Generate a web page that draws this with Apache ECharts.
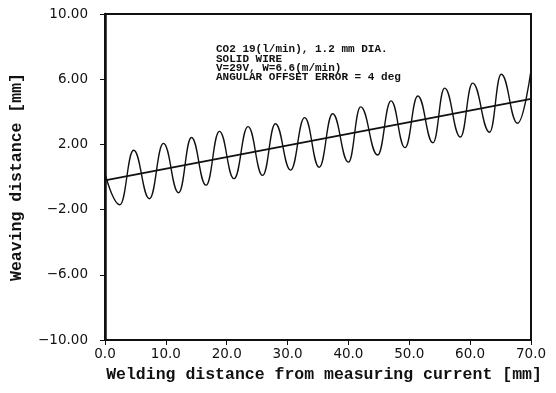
<!DOCTYPE html>
<html>
<head>
<meta charset="utf-8">
<script src="https://cdn.jsdelivr.net/npm/echarts@6/dist/echarts.min.js"></script>
<style>
  html, body { margin: 0; padding: 0; background: #fff; }
  #chart { width: 556px; height: 393px; }
</style>
</head>
<body>
<div id="chart"></div>
<script>
// weaving trace vs. welding distance
const waveX = [0, 2.45, 4.7, 7.3, 9.6, 12.1, 14.2, 16.6, 18.8, 21.2, 23.5, 25.9, 28.0, 30.5, 32.8,
  35.2, 37.4, 40.0, 42.0, 44.8, 47.0, 49.3, 51.4, 53.9, 55.8, 58.4, 60.4, 63.2, 65.1, 67.8, 70.0]
const waveY = [0.2, -1.7, 1.64, -1.33, 2.06, -0.97, 2.42, -0.5, 2.8, -0.1, 3.09, 0.1, 3.27, 0.42, 3.64,
  0.6, 3.88, 0.91, 4.3, 1.35, 4.67, 1.8, 4.97, 2.1, 5.45, 2.45, 5.76, 2.75, 6.3, 3.3, 6.55]

// offset line (4 deg)
const offsetX = [0, 70]
const offsetY = [-0.2, 4.8]

const yTicks = [-10, -6, -2, 2, 6, 10]
const noteLines = [
  'CO2 19(l/min), 1.2 mm DIA.',
  'SOLID WIRE',
  'V=29V, W=6.6(m/min)',
  'ANGULAR OFFSET ERROR = 4 deg',
]

const ink = '#111'
const tickFont = '"DejaVu Sans", sans-serif'
const nameFont = '"Liberation Mono", monospace'

const chart = echarts.init(document.getElementById('chart'), null, { renderer: 'canvas' })

chart.setOption({
  animation: false,
  backgroundColor: '#fff',
  grid: {
    left: 102, right: 25, top: 14, bottom: 53,
    show: true, borderColor: ink, borderWidth: 2, backgroundColor: 'transparent',
  },
  xAxis: {
    type: 'value', min: 0, max: 70, interval: 10,
    name: 'Welding distance from measuring current [mm]',
    nameLocation: 'middle', nameGap: 26,
    nameTextStyle: { color: ink, fontFamily: nameFont, fontWeight: 'bold', fontSize: 16.5, padding: [0, 0, 0, 12] },
    axisLine: { onZero: false, lineStyle: { color: ink, width: 2 } },
    axisTick: { inside: false, length: 5, lineStyle: { color: ink, width: 1 } },
    axisLabel: { color: ink, fontFamily: tickFont, fontSize: 13.5, margin: 7, formatter: v => v.toFixed(1) },
    splitLine: { show: false },
  },
  yAxis: {
    type: 'value', min: -10, max: 10,
    name: 'Weaving distance [mm]',
    nameLocation: 'middle', nameGap: 80,
    nameTextStyle: { color: ink, fontFamily: nameFont, fontWeight: 'bold', fontSize: 16.5 },
    axisLine: { show: true, onZero: false, lineStyle: { color: ink, width: 2.5 } },
    axisTick: { show: true, length: 5, customValues: yTicks, lineStyle: { color: ink, width: 1 } },
    axisLabel: {
      color: ink, fontFamily: tickFont, fontSize: 13.5, margin: 17,
      customValues: yTicks,
      formatter: v => v.toFixed(2).replace('-', '\u2212'),
    },
    splitLine: { show: false },
  },
  graphic: [{
    type: 'text', left: 216, top: 44,
    style: {
      text: noteLines.join('\n'),
      fill: ink, font: 'bold 11px "Liberation Mono", monospace', lineHeight: 9.3,
    },
  }],
  series: [
    {
      type: 'line', data: waveX.map((x, i) => [x, waveY[i]]),
      smooth: 0.45, smoothMonotone: 'x', showSymbol: false, symbol: 'none',
      lineStyle: { color: ink, width: 1.4 },
    },
    {
      type: 'line', data: offsetX.map((x, i) => [x, offsetY[i]]),
      showSymbol: false, symbol: 'none',
      lineStyle: { color: ink, width: 1.8 },
    },
  ],
})
</script>
</body>
</html>
